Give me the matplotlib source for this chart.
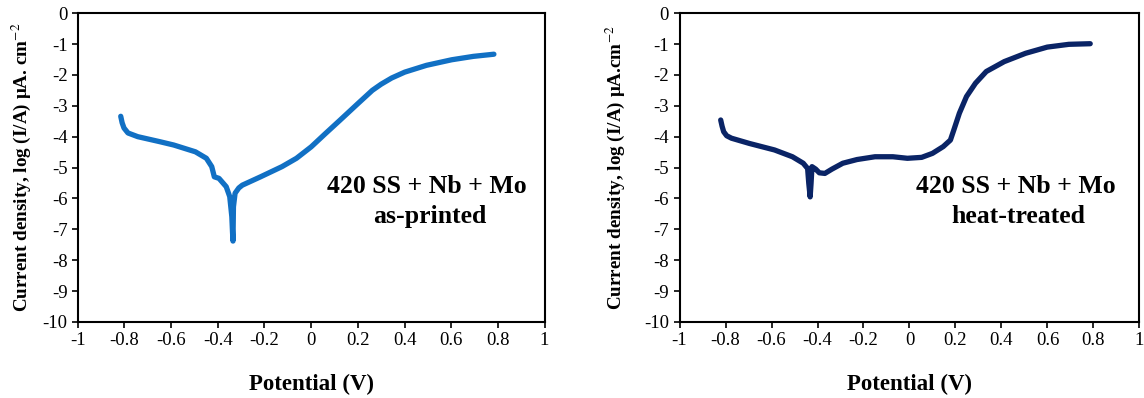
import matplotlib.pyplot as plt

plt.rcParams['font.family'] = ['Liberation Serif', 'DejaVu Serif']
plt.rcParams['mathtext.fontset'] = 'stix'

# polarization curve, as-printed
pot_a = [-0.816, -0.810, -0.802, -0.785, -0.743, -0.65, -0.589, -0.496, -0.449, -0.426,
         -0.415, -0.395, -0.364, -0.349, -0.340, -0.337, -0.335, -0.333, -0.326, -0.310,
         -0.295, -0.217, -0.125, -0.063, 0.0, 0.061, 0.123, 0.200, 0.262, 0.300, 0.345,
         0.401, 0.494, 0.602, 0.695, 0.783]
cur_a = [-3.34, -3.55, -3.72, -3.88, -4.0, -4.16, -4.27, -4.49, -4.70, -4.97,
         -5.30, -5.35, -5.62, -5.94, -6.59, -7.10, -7.38, -6.27, -5.83, -5.66,
         -5.57, -5.30, -4.97, -4.70, -4.33, -3.90, -3.47, -2.93, -2.50, -2.30, -2.10,
         -1.91, -1.69, -1.51, -1.40, -1.33]

# polarization curve, heat-treated
pot_h = [-0.821, -0.815, -0.808, -0.795, -0.774, -0.696, -0.587, -0.509, -0.462, -0.443,
         -0.438, -0.432, -0.428, -0.424, -0.408, -0.392, -0.368, -0.337, -0.290, -0.228,
         -0.150, -0.072, -0.009, 0.053, 0.100, 0.147, 0.178, 0.193, 0.217, 0.248, 0.287,
         0.334, 0.412, 0.505, 0.599, 0.693, 0.786]
cur_h = [-3.46, -3.66, -3.84, -3.97, -4.05, -4.22, -4.43, -4.65, -4.86, -5.03,
         -5.51, -5.95, -5.51, -4.97, -5.05, -5.17, -5.19, -5.05, -4.86, -4.74,
         -4.65, -4.65, -4.70, -4.67, -4.54, -4.32, -4.11, -3.78, -3.24, -2.70, -2.27,
         -1.89, -1.57, -1.30, -1.10, -1.01, -0.99]

xticks = [-1, -0.8, -0.6, -0.4, -0.2, 0, 0.2, 0.4, 0.6, 0.8, 1]
xlabels = ['-1', '-0.8', '-0.6', '-0.4', '-0.2', '0', '0.2', '0.4', '0.6', '0.8', '1']
yticks = list(range(-10, 1))

fig = plt.figure(figsize=[11.44, 3.98], dpi=100)
ax1 = fig.add_axes([0.068, 0.191, 0.408, 0.776])
ax2 = fig.add_axes([0.594, 0.191, 0.402, 0.776])

panels = [
    (ax1, pot_a, cur_a, '#1170C4', 'as-printed', 0.497, -0.097,
     'Current density, log (I/A) μA. cm$^{-2}$'),
    (ax2, pot_h, cur_h, '#0A2466', 'heat-treated', 0.464, -0.114,
     'Current density, log (I/A) μA.cm$^{-2}$'),
]

for ax, x, y, c, tag, tx, ly, ylab in panels:
    ax.plot(x, y, color=c, lw=3.8, solid_capstyle='round', solid_joinstyle='round')
    ax.set_xlim(-1, 1)
    ax.set_ylim(-10, 0)
    ax.set_xticks(xticks)
    ax.set_xticklabels(xlabels)
    ax.set_yticks(yticks)
    ax.set_yticklabels([str(v) for v in yticks])
    ax.tick_params(direction='out', length=4, width=1.2, labelsize=13.5)
    for s in ax.spines.values():
        s.set_linewidth(1.5)
    ax.set_xlabel('Potential (V)', fontsize=16.5, fontweight='bold')
    ax.xaxis.set_label_coords(0.5, -0.168)
    ax.set_ylabel(ylab, fontsize=13.8, fontweight='bold')
    ax.yaxis.set_label_coords(ly, 0.5)
    ax.text(tx, -5.6, '420 SS + Nb + Mo', fontsize=18.5, fontweight='bold',
            ha='center', va='center')
    ax.text(tx + 0.01, -6.58, tag, fontsize=18.5, fontweight='bold',
            ha='center', va='center')

plt.savefig('out.png', dpi=100)
